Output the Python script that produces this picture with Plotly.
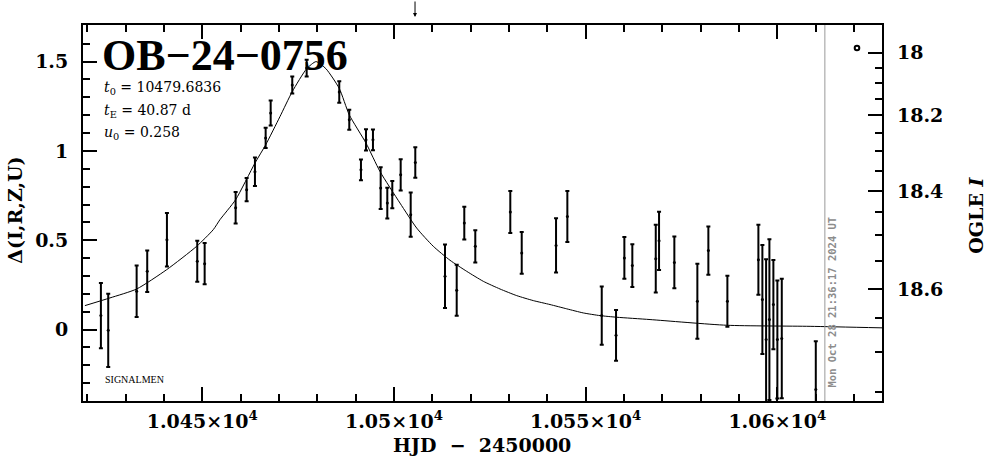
import plotly.graph_objects as go

# ---- data ----
hjd = [10423.57, 10425.48, 10432.89, 10435.65, 10440.79, 10448.70, 10450.63, 10458.71,
       10461.58, 10463.75, 10466.54, 10467.85, 10473.48, 10477.24, 10485.74, 10488.35,
       10491.40, 10492.71, 10494.53, 10496.54, 10498.27, 10499.57, 10501.76, 10504.37,
       10505.57, 10513.32, 10516.37, 10518.35, 10521.22, 10530.35, 10533.33, 10542.28,
       10545.23, 10554.20, 10557.93, 10560.10, 10562.18, 10568.29, 10569.15, 10573.14,
       10579.14, 10582.01, 10586.97, 10595.06, 10596.10, 10597.07, 10597.93, 10598.97,
       10600.01, 10601.16, 10610.03]
delta = [0.078, -0.004, 0.214, 0.326, 0.503, 0.382, 0.369, 0.682,
         0.783, 0.883, 1.073, 1.213, 1.369, 1.464, 1.330, 1.174,
         0.894, 1.062, 1.062, 0.792, 0.708, 0.755, 0.866, 0.643,
         0.935, 0.298, 0.220, 0.596, 0.466, 0.658, 0.429, 0.471,
         0.633, 0.078, -0.032, 0.401, 0.358, 0.397, 0.497, 0.376,
         0.158, 0.442, 0.158, 0.391, 0.168, -0.056, 0.056, 0.140,
         -0.056, -0.050, -0.335]
err = [0.182, 0.205, 0.144, 0.116, 0.15, 0.115, 0.115, 0.088,
       0.065, 0.080, 0.057, 0.070, 0.047, 0.047, 0.060, 0.056,
       0.058, 0.060, 0.058, 0.117, 0.086, 0.076, 0.088, 0.124,
       0.085, 0.178, 0.143, 0.092, 0.090, 0.118, 0.117, 0.152,
       0.143, 0.163, 0.142, 0.117, 0.120, 0.190, 0.163, 0.145,
       0.210, 0.135, 0.143, 0.196, 0.305, 0.45, 0.45, 0.250,
       0.330, 0.335, 0.27]

model_hjd = [10419.40, 10425.93, 10432.89, 10440.71, 10448.54, 10452.87, 10454.62, 10458.71,
             10463.75, 10466.54, 10470.27, 10473.48, 10477.24, 10479.69, 10482.27, 10485.74,
             10488.35, 10492.71, 10496.36, 10501.58, 10505.94, 10510.27, 10514.62, 10518.98,
             10523.31, 10527.67, 10532.02, 10536.36, 10540.71, 10545.07, 10549.40, 10553.76,
             10558.11, 10566.80, 10586.81, 10608.55, 10627.33]
model_delta = [0.134, 0.177, 0.227, 0.335, 0.466, 0.559, 0.615, 0.727,
               0.932, 1.034, 1.192, 1.332, 1.460, 1.500, 1.460, 1.350,
               1.202, 1.044, 0.885, 0.708, 0.568, 0.466, 0.388, 0.326,
               0.270, 0.227, 0.190, 0.162, 0.140, 0.116, 0.093, 0.078,
               0.069, 0.056, 0.024, 0.018, 0.0095]

x_ticks = [10450, 10500, 10550, 10600]
x_tick_text = ["1.045×10<sup>4</sup>", "1.05×10<sup>4</sup>", "1.055×10<sup>4</sup>", "1.06×10<sup>4</sup>"]
y_ticks = [0, 0.5, 1, 1.5]
y_tick_text = ["0", "0.5", "1", "1.5"]
ogle_labels = ["18", "18.2", "18.4", "18.6"]
ogle_at_delta = [1.550, 1.202, 0.773, 0.2275]
ogle_minor_delta = [1.466, 1.382, 1.291, 1.100, 0.997, 0.885, 0.656, 0.531, 0.386,
                    0.065, -0.127, -0.350]

event_name = "OB−24−0756"
t0_text = "10479.6836"
tE_text = "40.87 d"
u0_text = "0.258"
date_text = "Mon Oct 28 21:36:17 2024 UT"
now_hjd = 10612.4
arrow_hjd = 10505.5

x_range = [10418.9, 10627.3]
y_range = [-0.40, 1.705]

SERIF = "DejaVu Serif"
LSERIF = "Liberation Serif"

fig = go.Figure()

fig.add_trace(go.Scatter(
    x=model_hjd, y=model_delta, mode="lines",
    line=dict(color="black", width=1, shape="spline", smoothing=0.6),
    hoverinfo="skip", showlegend=False))

fig.add_trace(go.Scatter(
    x=hjd, y=delta, mode="markers",
    marker=dict(color="black", size=3),
    error_y=dict(type="data", array=err, symmetric=True, color="black", thickness=2, width=2),
    showlegend=False))

# invisible trace for right axis
fig.add_trace(go.Scatter(x=[x_range[0]], y=[0], yaxis="y2", mode="markers",
                         marker=dict(opacity=0), showlegend=False, hoverinfo="skip"))

fig.add_shape(type="line", xref="x", yref="paper", x0=now_hjd, x1=now_hjd, y0=0, y1=1,
              line=dict(color="#999999", width=1))

tickfont = dict(family=SERIF, size=19, color="black", weight="bold")

fig.update_layout(
    width=986, height=459,
    margin=dict(l=83, r=104, t=25, b=58),
    paper_bgcolor="white", plot_bgcolor="white",
    font=dict(family=SERIF, color="black"),
    xaxis=dict(
        range=x_range, showgrid=False, zeroline=False,
        showline=True, linecolor="black", linewidth=2, mirror="ticks",
        ticks="inside", ticklen=14, tickwidth=2, tickcolor="black",
        tickmode="array", tickvals=x_ticks, ticktext=x_tick_text,
        tickfont=tickfont,
        minor=dict(ticks="inside", ticklen=7, tickwidth=2, tickcolor="black", dtick=10, tick0=10420),
        ticklabelstandoff=2,
    ),
    yaxis=dict(
        range=y_range, showgrid=False, zeroline=False,
        showline=True, linecolor="black", linewidth=2, mirror=True,
        ticks="inside", ticklen=14, tickwidth=2, tickcolor="black",
        tickmode="array", tickvals=y_ticks, ticktext=y_tick_text,
        tickfont=tickfont,
        minor=dict(ticks="inside", ticklen=7, tickwidth=2, tickcolor="black", dtick=0.1, tick0=0),
        ticklabelstandoff=9,
    ),
    yaxis2=dict(
        range=y_range, overlaying="y", side="right", showgrid=False, zeroline=False,
        showline=False,
        ticks="inside", ticklen=14, tickwidth=2, tickcolor="black",
        tickmode="array", tickvals=ogle_at_delta, ticktext=ogle_labels,
        tickfont=tickfont,
        minor=dict(ticks="inside", ticklen=7, tickwidth=2, tickcolor="black",
                   tickmode="array", tickvals=ogle_minor_delta),
        ticklabelstandoff=14,
    ),
)

anns = [
    dict(text="<b>" + event_name + "</b>", x=100, y=56, font=dict(size=44, family=LSERIF)),
    dict(text="<i>t</i><sub>0</sub> = " + t0_text, x=102, y=88, font=dict(size=14, family=SERIF)),
    dict(text="<i>t</i><sub>E</sub> = " + tE_text, x=102, y=111, font=dict(size=14, family=SERIF)),
    dict(text="<i>u</i><sub>0</sub> = " + u0_text, x=102, y=133, font=dict(size=14, family=SERIF)),
    dict(text="SIGNALMEN", x=103, y=380, font=dict(size=10, family=LSERIF)),
]
for a in anns:
    fig.add_annotation(text=a["text"], xref="paper", yref="paper",
                       x=(a["x"] - 83) / 799, y=(401.5 - a["y"]) / 376.5,
                       xanchor="left", yanchor="middle", showarrow=False, font=a["font"])

# axis titles
fig.add_annotation(text="<b>HJD&nbsp;&nbsp;−&nbsp;&nbsp;2450000</b>", xref="paper", yref="paper",
                   x=(482 - 83) / 799, y=(401.5 - 446) / 376.5, xanchor="center", yanchor="middle",
                   showarrow=False, font=dict(size=19, family=SERIF))
fig.add_annotation(text="<b>Δ(I,R,Z,U)</b>", xref="paper", yref="paper",
                   x=(15 - 83) / 799, y=(401.5 - 211) / 376.5, xanchor="center", yanchor="middle",
                   textangle=-90, showarrow=False, font=dict(size=19, family=SERIF))
fig.add_annotation(text="<b>OGLE <i>I</i></b>", xref="paper", yref="paper",
                   x=(976 - 83) / 799, y=(401.5 - 216) / 376.5, xanchor="center", yanchor="middle",
                   textangle=-90, showarrow=False, font=dict(size=19, family=SERIF))
fig.add_annotation(text="<b>" + date_text + "</b>", xref="x", yref="paper",
                   x=now_hjd, xshift=7, y=(401.5 - 302) / 376.5, xanchor="center", yanchor="middle",
                   textangle=-90, showarrow=False,
                   font=dict(size=10.5, family="DejaVu Sans Mono", color="#8c8c8c"))

# arrow above the plot
fig.add_annotation(x=arrow_hjd, xref="x", yref="paper", y=(401.5 - 17) / 376.5,
                   ax=0, ay=-17, axref="pixel", ayref="pixel", text="", showarrow=True,
                   arrowhead=2, arrowsize=0.8, arrowwidth=1, arrowcolor="black")

# small circle symbol at top right
cx, cy, r = (857 - 83) / 799, (401.5 - 48) / 376.5, 2.3
fig.add_shape(type="circle", xref="paper", yref="paper",
              x0=cx - r / 799, x1=cx + r / 799, y0=cy - r / 376.5, y1=cy + r / 376.5,
              line=dict(color="black", width=2))

fig.write_html("out.html", config={"displayModeBar": False},
               post_script="document.body.style.margin='0';document.body.style.overflow='hidden';")
